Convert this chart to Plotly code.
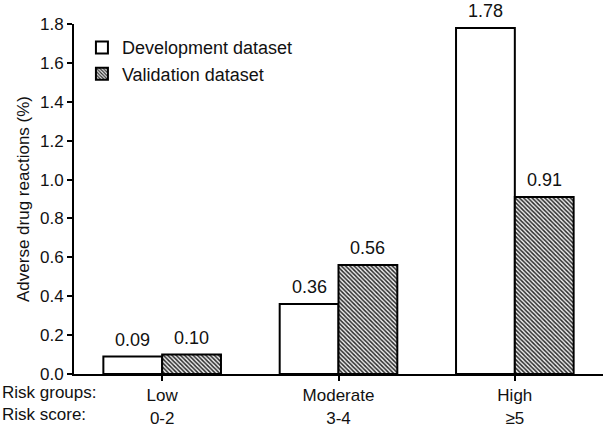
import plotly.graph_objects as go

categories = ["Low", "Moderate", "High"]
risk_scores = ["0-2", "3-4", "≥5"]
development = [0.09, 0.36, 1.78]
validation = [0.10, 0.56, 0.91]
y_ticks = [0.0, 0.2, 0.4, 0.6, 0.8, 1.0, 1.2, 1.4, 1.6, 1.8]

FONT = "Liberation Sans, Arial, Helvetica, sans-serif"
BARGAP = 0.333
xpos = list(range(len(categories)))
half = (1 - BARGAP) / 4  # centre offset of each bar within a group

fig = go.Figure()
fig.add_trace(go.Bar(
    name="Development dataset", x=xpos, y=development,
    marker=dict(color="white", line=dict(color="black", width=2)),
))
fig.add_trace(go.Bar(
    name="Validation dataset", x=xpos, y=validation,
    marker=dict(color="white", line=dict(color="black", width=2),
                pattern=dict(shape="\\", size=3, solidity=0.5,
                             fgcolor="#2a2a2a", bgcolor="#eeeeee", fillmode="replace")),
))

for series, sign in ((development, -1), (validation, 1)):
    for i, v in zip(xpos, series):
        fig.add_annotation(x=i + sign * half, y=v, xref="x", yref="y",
                           text=f"{v:.2f}", showarrow=False,
                           xanchor="center", yanchor="bottom", yshift=5,
                           font=dict(size=18, color="#111", family=FONT))

fig.update_layout(
    width=606, height=431,
    margin=dict(l=74, r=3, t=24, b=52),
    barmode="group", bargap=BARGAP, bargroupgap=0,
    plot_bgcolor="white", paper_bgcolor="white",
    font=dict(family=FONT, size=17, color="#111"),
    showlegend=True,
    legend=dict(x=0.015, y=0.985, xanchor="left", yanchor="top",
                bgcolor="rgba(0,0,0,0)", font=dict(size=18),
                itemwidth=30, tracegroupgap=0),
    xaxis=dict(
        range=[-0.5, 2.5], tickmode="array", tickvals=xpos,
        ticktext=[f"{c}<br>{s}" for c, s in zip(categories, risk_scores)],
        showline=True, linecolor="black", linewidth=2,
        ticks="outside", ticklen=5, tickwidth=2, tickcolor="black",
        tickfont=dict(size=17), showgrid=False, zeroline=False,
    ),
    yaxis=dict(
        range=[0, 1.8], tickmode="array", tickvals=y_ticks,
        ticktext=[f"{v:.1f}" for v in y_ticks],
        showline=True, linecolor="black", linewidth=2,
        ticks="outside", ticklen=5, tickwidth=2, tickcolor="black",
        tickfont=dict(size=17), showgrid=False, zeroline=False,
        title=dict(text="Adverse drug reactions (%)", font=dict(size=17), standoff=6),
    ),
)

fig.add_annotation(text="Risk groups:", xref="paper", yref="paper",
                   x=-74/529, y=0, xanchor="left", yanchor="top", yshift=-7,
                   showarrow=False, font=dict(size=17))
fig.add_annotation(text="Risk score:", xref="paper", yref="paper",
                   x=-74/529, y=0, xanchor="left", yanchor="top", yshift=-29,
                   showarrow=False, font=dict(size=17))

fig.write_html("out.html")
